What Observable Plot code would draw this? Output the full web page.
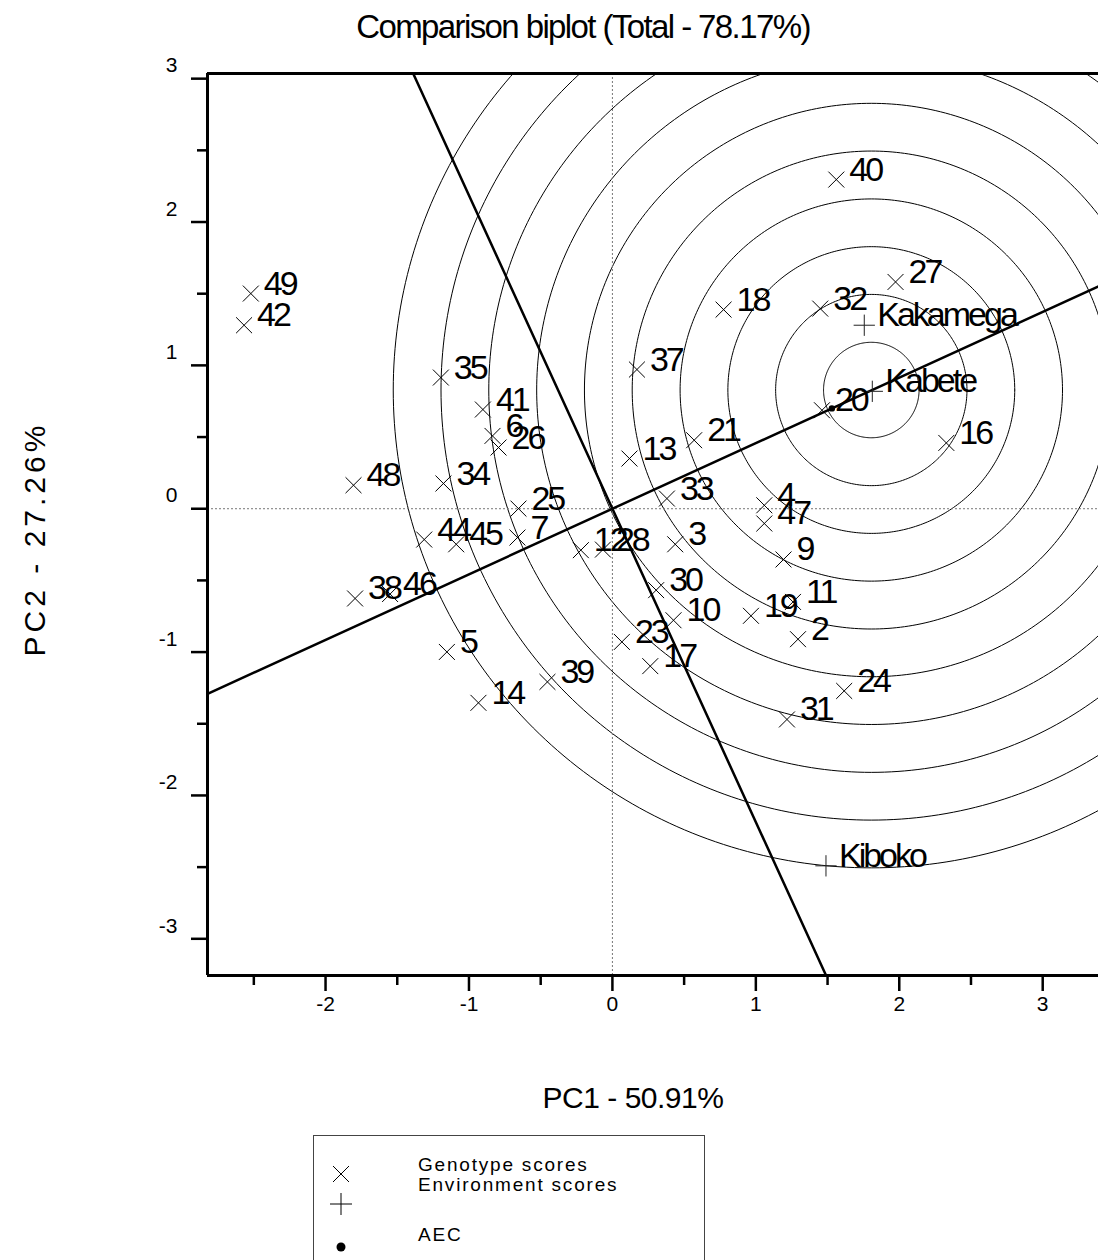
<!DOCTYPE html>
<html>
<head>
<meta charset="utf-8">
<script src="https://cdn.jsdelivr.net/npm/d3@7"></script>
<script src="https://cdn.jsdelivr.net/npm/@observablehq/plot@0.6"></script>
<style>
  html, body { margin: 0; padding: 0; background: #fff; overflow: hidden; }
  #wrap { position: relative; width: 1098px; height: 1260px; font-family: Arial, "Liberation Sans", sans-serif; color: #000; }
  #chart { position: absolute; left: 0; top: 0; }
  .abs { position: absolute; white-space: nowrap; line-height: 1; }
</style>
</head>
<body>
<div id="wrap">
  <div id="chart"></div>
  <div class="abs" id="title" style="font-size:33px; letter-spacing:-1.6px; left:0; width:1166px; text-align:center; top:10px;">Comparison biplot (Total - 78.17%)</div>
  <div class="abs" id="xlab" style="font-size:30px; letter-spacing:-0.5px; left:0; width:1266px; text-align:center; top:1083px;">PC1 - 50.91%</div>
  <div class="abs" id="ylab" style="font-size:30px; letter-spacing:4px; left:35px; top:539px; transform: translate(-50%,-50%) rotate(-90deg);">PC2 - 27.26%</div>
  <div id="legend" style="position:absolute; left:313px; top:1135px; width:392px; height:140px; border:1px solid #444; box-sizing:border-box;">
    <svg width="60" height="130" style="position:absolute; left:0; top:0;">
      <path d="M19,30 L35,46 M35,30 L19,46" stroke="#000" stroke-width="1" fill="none"/>
      <path d="M16,68 L38,68 M27,57 L27,79" stroke="#000" stroke-width="1" fill="none"/>
      <circle cx="27" cy="111" r="4.5" fill="#000"/>
    </svg>
    <div class="abs" style="left:104px; top:19px; font-size:19px; letter-spacing:1.8px;">Genotype scores</div>
    <div class="abs" style="left:104px; top:39px; font-size:19px; letter-spacing:1.8px;">Environment scores</div>
    <div class="abs" style="left:104px; top:89px; font-size:19px; letter-spacing:1.8px;">AEC</div>
  </div>
</div>
<script>
// ---- Data ----
const genoIds = ["2","3","4","5","6","7","9","10","11","12","13","14","16","17","18","19","20","21","23","24","25","26","27","28","30","31","32","33","34","35","37","38","39","40","41","42","44","45","46","47","48","49"];
const genoPC1 = [1.294,0.438,1.059,-1.154,-0.836,-0.662,1.193,0.426,1.259,-0.220,0.119,-0.934,2.328,0.264,0.775,0.966,1.461,0.570,0.066,1.616,-0.655,-0.794,1.974,-0.066,0.305,1.217,1.449,0.380,-1.178,-1.196,0.171,-1.794,-0.453,1.561,-0.903,-2.568,-1.312,-1.089,-1.550,1.059,-1.805,-2.521];
const genoPC2 = [-0.910,-0.248,0.024,-0.999,0.508,-0.201,-0.354,-0.778,-0.650,-0.289,0.350,-1.354,0.459,-1.098,1.389,-0.747,0.687,0.478,-0.929,-1.271,0.001,0.427,1.582,-0.285,-0.568,-1.470,1.396,0.071,0.176,0.915,0.971,-0.626,-1.208,2.296,0.692,1.280,-0.215,-0.248,-0.595,-0.103,0.164,1.501];

const envNames = ["Kakamega","Kabete","Kiboko"];
const envPC1 = [1.756, 1.812, 1.489];
const envPC2 = [1.280, 0.819, -2.491];

const aecPC1 = [1.53];
const aecPC2 = [0.70];

const idealPC1 = 1.805;
const idealPC2 = 0.828;
const ringRadii = [0.333,0.667,1.0,1.333,1.667,2.0,2.333,2.667,3.0,3.333];

const xMajorTicks = [-2,-1,0,1,2,3];
const xMinorTicks = [-2.5,-1.5,-0.5,0.5,1.5,2.5];
const yMajorTicks = [-3,-2,-1,0,1,2,3];
const yMinorTicks = [-2.5,-1.5,-0.5,0.5,1.5,2.5];

const xDomain = [-2.823, 3.389];
const yDomain = [-3.256, 3.036];

// ---- Build tables ----
const genos = genoIds.map((id,i) => ({id, x: genoPC1[i], y: genoPC2[i]}));
const envs = envNames.map((n,i) => ({name: n, x: envPC1[i], y: envPC2[i]}));
const aec = aecPC1.map((x,i) => ({x, y: aecPC2[i]}));

// concentric rings around the ideal point (geometry from center + radius)
const ringPts = [];
for (const r of ringRadii) {
  for (let k = 0; k <= 360; k++) {
    const t = k * Math.PI / 180;
    ringPts.push({r, x: idealPC1 + r*Math.cos(t), y: idealPC2 + r*Math.sin(t)});
  }
}
// AEC abscissa (through origin and AEC) and ordinate (perpendicular)
const dx = aecPC1[0], dy = aecPC2[0];
const L = 20;
const abscissa = [{x: -L*dx, y: -L*dy}, {x: L*dx, y: L*dy}];
const ordinate = [{x: L*dy, y: -L*dx}, {x: -L*dy, y: L*dx}];

const fmt = d => String(d);
const none = () => "";

const plot = Plot.plot({
  width: 1098,
  height: 1260,
  marginLeft: 207,
  marginRight: 0,
  marginTop: 73,
  marginBottom: 285,
  style: {fontFamily: "Arial, 'Liberation Sans', sans-serif", fontSize: "21px", background: "#fff", color: "#000"},
  x: {domain: xDomain},
  y: {domain: yDomain},
  marks: [
    Plot.line(ringPts, {x: "x", y: "y", z: "r", stroke: "#000", strokeWidth: 1, clip: true}),
    Plot.ruleX([0], {stroke: "#777", strokeWidth: 1, strokeDasharray: "2,2"}),
    Plot.ruleY([0], {stroke: "#777", strokeWidth: 1, strokeDasharray: "2,2"}),
    Plot.line(abscissa, {x: "x", y: "y", stroke: "#000", strokeWidth: 2.5, clip: true}),
    Plot.line(ordinate, {x: "x", y: "y", stroke: "#000", strokeWidth: 2.5, clip: true}),
    Plot.ruleX([xDomain[0]], {stroke: "#000", strokeWidth: 3}),
    Plot.ruleY([yDomain[0], yDomain[1]], {stroke: "#000", strokeWidth: 3}),
    Plot.axisX({ticks: xMajorTicks, tickSize: 16, tickPadding: 5, tickFormat: fmt, strokeWidth: 2.5, fontSize: 21, label: null}),
    Plot.axisX({ticks: xMinorTicks, tickSize: 10, tickFormat: none, strokeWidth: 2.5, label: null}),
    Plot.axisY({ticks: yMajorTicks, tickSize: 16, tickFormat: none, strokeWidth: 2.5, label: null}),
    Plot.axisY({ticks: yMajorTicks, tickSize: 0, tickPadding: 30, tickFormat: fmt, fontSize: 21, dy: -13, label: null}),
    Plot.axisY({ticks: yMinorTicks, tickSize: 10, tickFormat: none, strokeWidth: 2.5, label: null}),
    Plot.dot(genos, {x: "x", y: "y", symbol: "times", r: 7.3, stroke: "#000", strokeWidth: 1}),
    Plot.dot(envs, {x: "x", y: "y", symbol: "plus", r: 6.9, stroke: "#222", strokeWidth: 1}),
    Plot.dot(aec, {x: "x", y: "y", r: 3.2, fill: "#000", stroke: null}),
    Plot.text(genos, {x: "x", y: "y", text: "id", textAnchor: "start", lineAnchor: "bottom", dx: 13, dy: 1, fontSize: 34}),
    Plot.text(envs, {x: "x", y: "y", text: "name", textAnchor: "start", lineAnchor: "bottom", dx: 13, dy: 1, fontSize: 34})
  ]
});
document.getElementById("chart").appendChild(plot);
d3.select(plot).selectAll("g[aria-label='text'] text").attr("letter-spacing", "-3");
</script>
</body>
</html>
